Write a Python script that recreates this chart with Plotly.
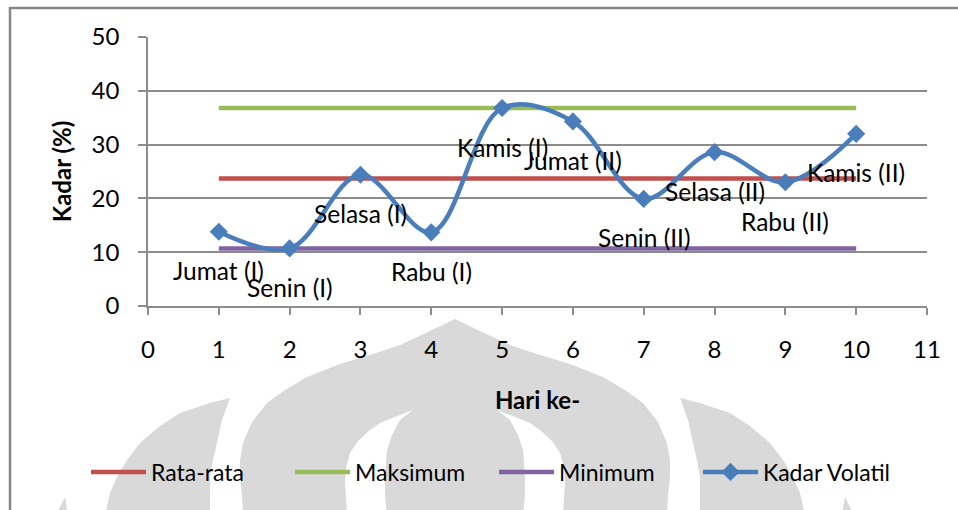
import plotly.graph_objects as go

# ---- data ----
hari = [1, 2, 3, 4, 5, 6, 7, 8, 9, 10]
kadar_volatil = [13.8, 10.7, 24.4, 13.7, 36.8, 34.3, 19.9, 28.6, 23.0, 32.0]
rata_rata = [23.7, 23.7, 23.7, 23.7, 23.7, 23.7, 23.7, 23.7, 23.7, 23.7]
maksimum = [36.8, 36.8, 36.8, 36.8, 36.8, 36.8, 36.8, 36.8, 36.8, 36.8]
minimum = [10.7, 10.7, 10.7, 10.7, 10.7, 10.7, 10.7, 10.7, 10.7, 10.7]
label_hari = ["Jumat (I)", "Senin (I)", "Selasa (I)", "Rabu (I)", "Kamis (I)",
              "Jumat (II)", "Senin (II)", "Selasa (II)", "Rabu (II)", "Kamis (II)"]

FONT = "Lato"
W, H = 958, 510
L, R, T, B = 148, 31, 37, 204
PW, PH = W - L - R, H - T - B


def px(x):
    return (x - L) / PW


def py(y):
    return (H - B - y) / PH


def path(points):
    s = "M " + " L ".join(f"{px(x):.5f},{py(y):.5f}" for x, y in points)
    return s + " Z"


AX = 455  # watermark symmetry axis (pixels)


def mirror(points):
    return [(2 * AX - x, y) for x, y in points]


# ---- decorative watermark (background logo) ----
dome_left = [(455, 319), (430, 331), (400, 345), (373, 354), (340, 364), (307, 377),
             (285, 390), (267, 403), (252, 422), (243, 443), (240, 460), (240, 477),
             (242, 495), (243, 515)]
dome = dome_left + list(reversed(mirror(dome_left)))

sliver_left = [(413, 410), (395, 417), (380, 423), (370, 430), (358, 441), (350, 453),
               (346, 468), (345, 483), (346, 497), (347, 515), (387, 515), (385, 495),
               (385, 477), (386, 462), (387, 450), (392, 435), (400, 420)]
leaf_left = [(230, 398), (210, 403), (180, 413), (160, 426), (140, 443), (127, 460),
             (117, 477), (110, 493), (105, 515), (210, 515), (210, 495), (210, 477),
             (213, 460), (217, 443), (222, 420)]
tip_left = [(65, 497), (56, 515), (68, 515)]

WM = "#d9d9d9"
shapes = [
    dict(type="path", path=path(dome), xref="paper", yref="paper",
         fillcolor=WM, line=dict(width=0), layer="below"),
    dict(type="path", path=path(sliver_left), xref="paper", yref="paper",
         fillcolor="white", line=dict(width=0), layer="below"),
    dict(type="path", path=path(mirror(sliver_left)), xref="paper", yref="paper",
         fillcolor="white", line=dict(width=0), layer="below"),
    dict(type="path", path=path(leaf_left), xref="paper", yref="paper",
         fillcolor=WM, line=dict(width=0), layer="below"),
    dict(type="path", path=path(mirror(leaf_left)), xref="paper", yref="paper",
         fillcolor=WM, line=dict(width=0), layer="below"),
    dict(type="path", path=path(tip_left), xref="paper", yref="paper",
         fillcolor=WM, line=dict(width=0), layer="below"),
    dict(type="path", path=path(mirror(tip_left)), xref="paper", yref="paper",
         fillcolor=WM, line=dict(width=0), layer="below"),
    # chart frame
    dict(type="rect", xref="paper", yref="paper", x0=px(10), y0=py(8), x1=px(975), y1=py(530),
         line=dict(color="#878787", width=2.5), fillcolor="rgba(0,0,0,0)", layer="above"),
]

fig = go.Figure()
fig.add_trace(go.Scatter(x=hari, y=rata_rata, mode="lines", name="Rata-rata",
                         line=dict(color="#C0504D", width=4.5)))
fig.add_trace(go.Scatter(x=hari, y=maksimum, mode="lines", name="Maksimum",
                         line=dict(color="#9BBB59", width=4.5)))
fig.add_trace(go.Scatter(x=hari, y=minimum, mode="lines", name="Minimum",
                         line=dict(color="#8064A2", width=4.5)))
fig.add_trace(go.Scatter(x=hari, y=kadar_volatil, mode="lines+markers", name="Kadar Volatil",
                         line=dict(color="#4A7EBB", width=4.5, shape="spline", smoothing=1.0),
                         marker=dict(symbol="diamond", size=14, color="#4A7EBB")))

annotations = [
    dict(x=xv, y=yv, text=t, showarrow=False, yshift=-39, xref="x", yref="y",
         font=dict(family=FONT, size=24.5, color="black"))
    for xv, yv, t in zip(hari, kadar_volatil, label_hari)
]

grid = "#8c8c8c"
fig.update_layout(
    width=W, height=H, autosize=False,
    margin=dict(l=L, r=R, t=T, b=B),
    paper_bgcolor="white", plot_bgcolor="rgba(0,0,0,0)",
    font=dict(family=FONT, size=24, color="black"),
    shapes=shapes, annotations=annotations,
    showlegend=True,
    legend=dict(orientation="h", x=px(86), xanchor="left", y=py(472), yanchor="middle",
                font=dict(family=FONT, size=23, color="black"), bgcolor="rgba(0,0,0,0)",
                itemwidth=55, entrywidth=134, entrywidthmode="pixels", traceorder="normal"),
    xaxis=dict(range=[0, 11], tick0=0, dtick=1, ticks="outside", ticklen=7, tickwidth=1.5,
               tickcolor=grid, showline=True, linecolor=grid, linewidth=1.5, showgrid=False,
               zeroline=False, ticklabelstandoff=14, tickfont=dict(size=24),
               title=dict(text="<b>Hari ke-</b>", standoff=31,
                          font=dict(family=FONT, size=24, color="black"))),
    yaxis=dict(range=[0, 50], tick0=0, dtick=10, ticks="outside", ticklen=8, tickwidth=1.5,
               tickcolor=grid, showline=True, linecolor=grid, linewidth=1.5, showgrid=True,
               gridcolor=grid, gridwidth=1.5, zeroline=False, ticklabelstandoff=14,
               tickfont=dict(size=24),
               title=dict(text="<b>Kadar (%)</b>", standoff=13,
                          font=dict(family=FONT, size=24, color="black"))),
)

fig.write_html("out.html")
